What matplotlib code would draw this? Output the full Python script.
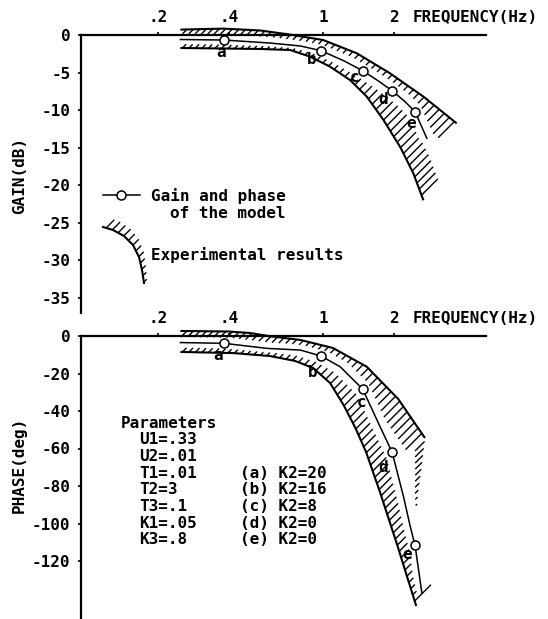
import numpy as np
import matplotlib
matplotlib.use("Agg")
import matplotlib.pyplot as plt
from matplotlib.collections import LineCollection
from matplotlib.lines import Line2D
from matplotlib.ticker import FixedLocator, NullLocator

# ---- data ----
freq_ticks = [0.2, 0.4, 1, 2]
freq_labels = [".2", ".4", "1", "2"]

point_labels = ["a", "b", "c", "d", "e"]
point_freq = [0.38, 0.98, 1.47, 1.96, 2.45]

gain_points = [-0.67, -2.09, -4.75, -7.42, -10.2]
gain_model_f = [0.248, 0.38, 0.596, 0.80, 0.98, 1.22, 1.47, 1.71, 1.96, 2.21, 2.45, 2.75]
gain_model_v = [-0.6, -0.67, -1.07, -1.46, -2.09, -3.42, -4.75, -6.1, -7.42, -8.8, -10.2, -13.75]
gain_outer_f = [0.248, 0.377, 0.541, 0.718, 1.0, 1.39, 1.92, 2.66, 3.68]
gain_outer_v = [0.72, 0.85, 0.6, 0.07, -0.67, -2.44, -5.1, -8.2, -11.76]
gain_inner_f = [0.248, 0.384, 0.541, 0.725, 0.881, 1.07, 1.30, 1.53, 1.80, 2.12, 2.41, 2.66]
gain_inner_v = [-1.73, -1.8, -1.86, -2.0, -2.89, -4.22, -6.0, -8.2, -11.3, -14.9, -18.4, -22.0]

phase_points = [-3.9, -10.7, -28.3, -62, -111.5]
phase_model_f = [0.248, 0.38, 0.577, 0.80, 0.98, 1.18, 1.47, 1.69, 1.96, 2.19, 2.34, 2.45, 2.62]
phase_model_v = [-3.5, -3.9, -6.6, -7.5, -10.7, -16.4, -28.3, -44.8, -62, -85.7, -101.7, -111.5, -137]
phase_outer_f = [0.248, 0.396, 0.49, 0.585, 0.80, 1.1, 1.53, 2.08, 2.70]
phase_outer_v = [2.7, 2.4, 1.6, 0.0, -2.1, -6.4, -16.4, -33.6, -54.4]
phase_tail_f = [2.70, 2.60, 2.53, 2.50]
phase_tail_v = [-54.4, -71.5, -82.1, -90.1]
phase_inner_f = [0.248, 0.416, 0.596, 0.76, 0.907, 1.07, 1.22, 1.37, 1.52, 1.74, 2.06, 2.48]
phase_inner_v = [-8.5, -9.1, -10.7, -13.3, -17.1, -25.1, -36.8, -49.1, -61.9, -83.2, -111.5, -144]

gain_ticks = [0, -5, -10, -15, -20, -25, -30, -35]
phase_ticks = [0, -20, -40, -60, -80, -100, -120]

param_lines = ["U1=.33", "U2=.01", "T1=.01", "T2=3", "T3=.1", "K1=.05", "K3=.8"]
case_lines = ["(a) K2=20", "(b) K2=16", "(c) K2=8", "(d) K2=0", "(e) K2=0"]

# ---- figure ----
plt.rcParams['font.family'] = ['DejaVu Sans Mono']
plt.rcParams['font.weight'] = 'bold'
plt.rcParams['axes.unicode_minus'] = False
FS = 11.5
HATCH_LW = 1.0
W, H = 548, 619
fig = plt.figure(figsize=(W / 100, H / 100), dpi=100)


def fx(x, y):
    return x / W, 1 - y / H


def add_ax(x0, y0, x1, y1):
    return fig.add_axes([x0 / W, 1 - y1 / H, (x1 - x0) / W, (y1 - y0) / H])


def setup(ax, ylim, yticks):
    ax.set_xscale('log')
    ax.set_xlim(0.094, 4.9)
    ax.set_ylim(*ylim)
    ax.patch.set_alpha(0)
    ax.spines['right'].set_visible(False)
    ax.spines['bottom'].set_visible(False)
    for s in ('left', 'top'):
        ax.spines[s].set_linewidth(1.6)
    ax.xaxis.tick_top()
    ax.xaxis.set_major_locator(FixedLocator(freq_ticks))
    ax.xaxis.set_minor_locator(NullLocator())
    ax.set_xticklabels(freq_labels)
    ax.set_yticks(yticks)
    ax.set_yticklabels([str(t) for t in yticks])
    ax.tick_params(axis='both', direction='out', length=2.5, width=1.2,
                   pad=5, labelsize=FS)
    ax.annotate("FREQUENCY(Hz)", xy=(0.82, 1), xycoords='axes fraction',
                xytext=(0, 7.5), textcoords='offset points',
                ha='left', va='bottom', fontsize=FS)


def tick_segments(pts, side, model=None, cap=23, step=6.5, start=None, lengths=None):
    # short "/" strokes along a boundary given in display coords,
    # reaching most of the way toward the model curve
    seg = np.hypot(*np.diff(pts, axis=0).T)
    s = np.concatenate([[0], np.cumsum(seg)])
    ss = np.arange(step / 2 if start is None else start, s[-1], step)
    P = np.column_stack([np.interp(ss, s, pts[:, 0]), np.interp(ss, s, pts[:, 1])])
    d = side * np.array([1.0, 1.0]) / np.sqrt(2)
    if lengths is not None:
        L = np.interp(ss, [0, s[-1]], lengths)
    else:
        L = np.full(len(P), float(cap))
        if model is not None:
            A = model[:-1]
            S = model[1:] - model[:-1]
            den = d[0] * S[:, 1] - d[1] * S[:, 0]
            for i, p in enumerate(P):
                q = A - p
                with np.errstate(divide='ignore', invalid='ignore'):
                    t = (q[:, 0] * S[:, 1] - q[:, 1] * S[:, 0]) / den
                    u = (q[:, 0] * d[1] - q[:, 1] * d[0]) / den
                ok = (t > 0) & (u >= 0) & (u <= 1) & np.isfinite(t)
                if ok.any():
                    tm = t[ok].min()
                    L[i] = min(cap, max(0.45 * tm, tm - 8))
    return [np.array([p, p + l * d]) for p, l in zip(P, L)]


def draw_band(ax, of, ov, inf, inv, mf, mv):
    tr = ax.transData
    inv_tr = tr.inverted()
    model = tr.transform(np.column_stack([mf, mv]))
    # carry the model flat a little to the left so the first strokes find it
    model = np.vstack([[model[0, 0] - 60, model[0, 1]], model])
    for f, v, side, st in ((of, ov, -1, 6.5), (inf, inv, 1, 2)):
        pts = tr.transform(np.column_stack([f, v]))
        ax.plot(f, v, color='black', lw=1.5, clip_on=False, solid_capstyle='butt')
        segs = [inv_tr.transform(sg) for sg in tick_segments(pts, side, model, start=st)]
        ax.add_collection(LineCollection(segs, colors='black', linewidths=HATCH_LW,
                                         clip_on=False))


def draw_model(ax, mf, mv, pv, offsets):
    ax.plot(mf, mv, color='black', lw=1.1, clip_on=False)
    ax.plot(point_freq, pv, 'o', ms=6.5, mfc='white', mec='black', mew=1.1,
            clip_on=False, zorder=5)
    for lab, f, v, (dx, dy) in zip(point_labels, point_freq, pv, offsets):
        ax.annotate(lab, xy=(f, v), xytext=(dx, -dy), textcoords='offset pixels',
                    ha='center', va='center', fontsize=FS)


ax_g = add_ax(81, 35, 486, 313)
setup(ax_g, (-37.0, 0), gain_ticks)
ax_p = add_ax(81, 336, 486, 618)
setup(ax_p, (-150.4, 0), phase_ticks)

draw_band(ax_g, gain_outer_f, gain_outer_v, gain_inner_f, gain_inner_v,
          gain_model_f, gain_model_v)
draw_model(ax_g, gain_model_f, gain_model_v, gain_points,
           [(-3, 12), (-9, 9), (-8, 7), (-9, 9), (-4, 12)])

draw_band(ax_p, phase_outer_f, phase_outer_v, phase_inner_f, phase_inner_v,
          phase_model_f, phase_model_v)
tail = ax_p.transData.transform(np.column_stack([phase_tail_f, phase_tail_v]))
tail_segs = [ax_p.transData.inverted().transform(sg)
             for sg in tick_segments(tail, -1, lengths=(14, 2), step=7)]
ax_p.add_collection(LineCollection(tail_segs, colors='black', linewidths=HATCH_LW,
                                   clip_on=False))
draw_model(ax_p, phase_model_f, phase_model_v, phase_points,
           [(-6, 12), (-8, 16), (-1, 13), (-9, 15), (-8, 9)])

# axis titles
fig.text(*fx(20, 176), "GAIN(dB)", rotation=90, ha='center', va='center', fontsize=FS)
fig.text(*fx(19, 465), "PHASE(deg)", rotation=90, ha='center', va='center', fontsize=FS)

# legend
fig.add_artist(Line2D([103 / W, 140 / W], [1 - 195 / H] * 2, color='black', lw=1.1,
                      transform=fig.transFigure))
fig.add_artist(Line2D([121 / W], [1 - 195 / H], marker='o', ms=6.5, mfc='white',
                      mec='black', mew=1.1, transform=fig.transFigure))
fig.text(*fx(151, 196), "Gain and phase", ha='left', va='center', fontsize=FS)
fig.text(*fx(170, 213), "of the model", ha='left', va='center', fontsize=FS)

leg_x = np.array([103, 113, 124, 133, 139, 142, 144])
leg_y = np.array([227, 230, 236, 245, 257, 270, 283])
leg_pts = np.column_stack([leg_x, H - leg_y]).astype(float)
fig.add_artist(Line2D(leg_x / W, 1 - leg_y / H, color='black', lw=1.5,
                      transform=fig.transFigure))
leg_segs = [sg / np.array([W, H]) for sg in tick_segments(leg_pts, 1, lengths=(12, 4))]
fig.add_artist(LineCollection(leg_segs, colors='black', linewidths=HATCH_LW,
                              transform=fig.transFigure))
fig.text(*fx(151, 255), "Experimental results", ha='left', va='center', fontsize=FS)

# parameter block
fig.text(*fx(121, 423), "Parameters", ha='left', va='center', fontsize=FS)
for i, s in enumerate(param_lines):
    fig.text(*fx(139, 440 + 16.6 * i), s, ha='left', va='center', fontsize=FS)
for i, s in enumerate(case_lines):
    fig.text(*fx(240, 440 + 16.6 * (i + 2)), s, ha='left', va='center', fontsize=FS)

fig.savefig("out.png", dpi=100)
